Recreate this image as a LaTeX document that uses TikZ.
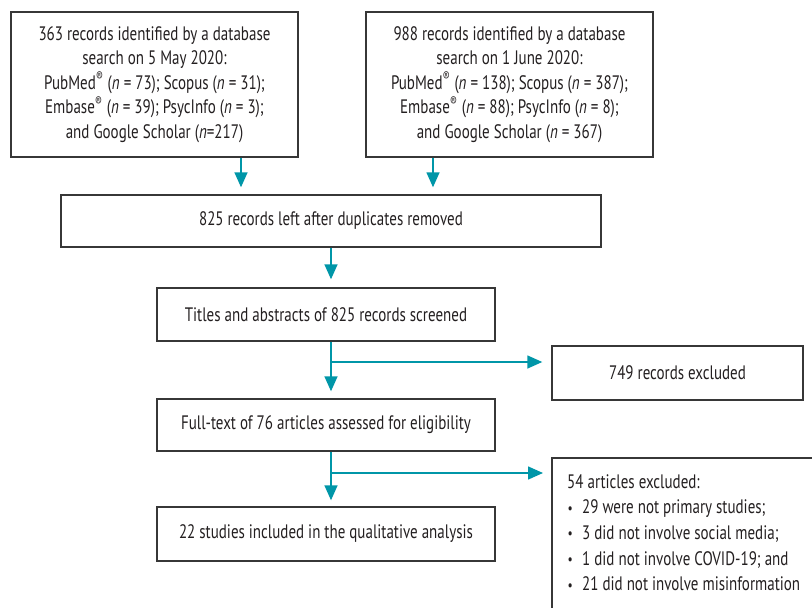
\documentclass[tikz,border=0pt]{standalone}
\usepackage{fontspec}
\setmainfont[FakeStretch=0.77]{PT Sans}
\usetikzlibrary{arrows.meta}
\definecolor{tealarr}{RGB}{0,150,168}
\definecolor{boxline}{RGB}{55,55,55}
\definecolor{txt}{RGB}{35,31,32}
\newcommand{\nn}{\textit{n}}
\newcommand{\reg}{\textsuperscript{\textregistered}}
\newcommand{\bul}{\makebox[15pt][l]{\hspace{0.5pt}\raisebox{0.5pt}{\fontsize{15}{15}\selectfont\textbullet}}}
\begin{document}
\begin{tikzpicture}[x=1pt,y=-1pt,
  box/.style={draw=boxline,line width=1.4pt,inner sep=0pt,text=txt,
    font=\fontsize{19.5}{24.4}\selectfont,align=center},
  arr/.style={draw=tealarr,line width=1.5pt,-{Triangle[width=13pt,length=15pt]}},
  frame/.style={draw=boxline,line width=1.4pt}]
\useasboundingbox (0,0) rectangle (812,608);
\node[box,minimum width=287pt,minimum height=145pt] (s1) at (154.5,84.5)
 {363 records identified by a database\\
  search on 5 May 2020:\\
  PubMed\reg{} (\nn{} = 73); Scopus (\nn{} = 31);\\
  Embase\reg{} (\nn{} = 39); PsycInfo (\nn{} = 3);\\
  and Google Scholar (\nn=217)};
\node[box,minimum width=287pt,minimum height=145pt] (s2) at (509.5,84.5)
 {988 records identified by a database\\
  search on 1 June 2020:\\
  PubMed\reg{} (\nn{} = 138); Scopus (\nn{} = 387);\\
  Embase\reg{} (\nn{} = 88); PsycInfo (\nn{} = 8);\\
  and Google Scholar (\nn{} = 367)};
\node[box,minimum width=540pt,minimum height=52pt] (dup) at (331,221)
 {825 records left after duplicates removed};
\node[box,minimum width=338pt,minimum height=53pt] (ta) at (326,314.5)
 {Titles and abstracts of 825 records screened};
\node[box,minimum width=338pt,minimum height=52pt] (ft) at (326,425)
 {Full-text of 76 articles assessed for eligibility};
\node[box,minimum width=338pt,minimum height=54pt] (inc) at (326,534)
 {22 studies included in the qualitative analysis};
\node[box,minimum width=251pt,minimum height=54pt] (ex1) at (677.5,373)
 {749 records excluded};
\coordinate (ex2) at (552,458);
\draw[frame] (815,458) -- (ex2) -- (552,612);
\node[anchor=north west,inner sep=0pt,align=left,text=txt,
  font=\fontsize{19.5}{25.7}\selectfont] (ex2t) at (567,474)
 {54 articles excluded:\\
  \bul 29 were not primary studies;\\
  \bul 3 did not involve social media;\\
  \bul 1 did not involve COVID-19; and\\
  \bul 21 did not involve misinformation};
% arrows
\draw[arr,shorten >=7pt] ([xshift=86.5pt]s1.south) -- ([xshift=86.5pt]s1.south |- dup.north);
\draw[arr,shorten >=7pt] ([xshift=-76.5pt]s2.south) -- ([xshift=-76.5pt]s2.south |- dup.north);
\draw[arr,shorten >=8pt] (dup.south) -- (dup.south |- ta.north);
\draw[arr,shorten >=7pt] (dup.south |- ta.south) -- (dup.south |- ft.north);
\draw[arr,shorten >=6pt] (dup.south |- ft.south) -- (dup.south |- inc.north);
\coordinate (j1) at (331,362);
\coordinate (j2) at (331,473);
\draw[arr,shorten >=9pt] (j1) -- (j1 -| ex1.west);
\draw[arr,shorten >=9pt] (j2) -- (j2 -| ex2);
\end{tikzpicture}
\end{document}
